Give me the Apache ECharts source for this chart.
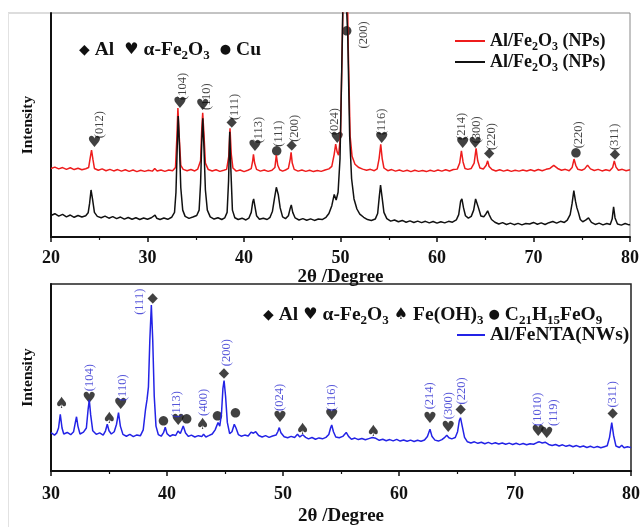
<!DOCTYPE html>
<html><head><meta charset="utf-8">
<script src="https://cdn.jsdelivr.net/npm/echarts@6/dist/echarts.min.js"></script>
<style>html,body{margin:0;padding:0;background:#fff}#c{width:643px;height:527px}</style>
</head><body><div id="c"></div>
<script>
// ---------- tick labels ----------
const topTicks = [20, 30, 40, 50, 60, 70, 80];
const botTicks = [30, 40, 50, 60, 70, 80];

// ---------- top panel: Al/Fe2O3 (NPs), red trace [2θ, intensity] ----------
const redNP = [[20.0,30.6],[20.4,31.2],[20.8,30.4],[21.2,31.0],[21.6,30.2],[22.0,30.9],[22.4,30.1],[22.8,30.7],[23.2,30.0],[23.6,30.5],[23.9,31.0],[24.05,35.0],[24.2,38.8],[24.35,34.5],[24.5,30.6],[24.9,29.8],[25.3,30.4],[25.7,29.6],[26.1,30.2],[26.5,29.5],[26.9,30.1],[27.3,29.4],[27.7,30.0],[28.1,29.3],[28.5,29.9],[28.9,29.2],[29.3,29.8],[29.7,29.3],[30.1,29.8],[30.5,29.4],[30.75,30.6],[31.0,29.5],[31.4,29.9],[31.8,29.3],[32.2,29.9],[32.6,29.6],[32.9,31.0],[33.05,45],[33.15,57.6],[33.3,44],[33.45,32],[33.7,30.2],[34.1,29.6],[34.5,30.1],[34.9,29.5],[35.2,30.3],[35.5,34],[35.62,48],[35.72,55.5],[35.85,46],[36.0,33],[36.3,30.1],[36.7,29.5],[37.1,30.0],[37.5,29.3],[37.9,29.8],[38.2,30.2],[38.42,36],[38.55,48.5],[38.68,37],[38.85,30.8],[39.2,29.4],[39.6,29.9],[40.0,29.2],[40.4,29.8],[40.75,30.5],[40.9,34],[40.98,36.9],[41.1,33],[41.3,30.2],[41.7,29.4],[42.1,29.9],[42.5,29.3],[42.9,29.8],[43.2,31],[43.35,36.6],[43.5,32],[43.7,30.0],[44.0,29.4],[44.3,29.9],[44.6,30.6],[44.8,35],[44.88,37.8],[45.0,33],[45.2,30.2],[45.6,29.4],[46.0,29.9],[46.4,29.3],[46.8,29.8],[47.2,29.2],[47.6,29.7],[48.0,29.3],[48.4,29.9],[48.8,30.4],[49.1,31.5],[49.35,37],[49.5,41.5],[49.65,38],[49.8,36.5],[50.0,45],[50.2,90],[50.35,130],[50.5,130],[50.65,130],[50.8,85],[51.0,45],[51.2,36],[51.5,32.5],[51.9,31.0],[52.3,30.3],[52.7,29.8],[53.1,30.2],[53.5,29.6],[53.8,30.4],[54.0,35],[54.17,41.4],[54.32,35],[54.5,30.8],[54.9,29.6],[55.3,30.1],[55.7,29.4],[56.1,29.9],[56.5,29.3],[56.9,29.8],[57.3,29.2],[57.7,29.8],[58.1,29.3],[58.5,29.7],[58.9,29.2],[59.3,29.8],[59.7,29.3],[60.1,29.9],[60.5,29.4],[60.9,30.0],[61.3,29.5],[61.7,30.1],[62.1,30.3],[62.35,33],[62.53,38.5],[62.7,33.5],[62.9,30.6],[63.2,30.2],[63.55,30.6],[63.85,33],[64.05,39.6],[64.22,34],[64.45,30.8],[64.8,30.4],[65.1,32],[65.25,34],[65.4,31.5],[65.7,30.1],[66.1,29.5],[66.5,30.0],[66.9,29.4],[67.3,29.9],[67.7,29.3],[68.1,29.8],[68.5,29.4],[68.9,29.9],[69.3,29.5],[69.7,30.0],[70.1,29.5],[70.5,30.1],[70.9,29.6],[71.3,30.2],[71.7,30.6],[72.1,32.0],[72.5,30.6],[72.9,29.8],[73.3,30.2],[73.7,29.6],[74.0,31],[74.2,34.8],[74.38,32],[74.6,30.2],[75.0,29.8],[75.3,30.4],[75.6,32.1],[75.9,30.4],[76.3,29.7],[76.7,30.2],[77.1,29.5],[77.5,30.0],[77.9,29.6],[78.2,31.0],[78.37,34.0],[78.55,31.2],[78.8,29.8],[79.2,30.2],[79.6,29.6],[80.0,30.0]];

// ---------- top panel: black trace ----------
const blackNP = [[20.0,9.6],[20.4,10.4],[20.8,9.3],[21.2,10.1],[21.6,9.0],[22.0,9.8],[22.4,8.8],[22.8,9.6],[23.2,8.9],[23.6,9.5],[23.85,10.8],[24.0,15],[24.15,21],[24.3,17],[24.5,11],[24.8,9.2],[25.2,8.6],[25.6,9.3],[26.0,8.4],[26.4,9.1],[26.8,8.2],[27.2,8.9],[27.6,8.0],[28.0,8.7],[28.4,7.9],[28.8,8.6],[29.2,7.8],[29.6,8.5],[30.0,7.9],[30.4,8.6],[30.6,9.0],[30.78,9.8],[30.95,8.4],[31.3,7.8],[31.7,8.5],[32.1,7.9],[32.5,8.8],[32.8,11],[32.95,20],[33.08,40],[33.18,54],[33.3,42],[33.45,22],[33.65,12],[33.9,9.2],[34.3,8.3],[34.7,8.9],[35.1,9.6],[35.35,12],[35.5,24],[35.62,42],[35.73,53],[35.85,40],[36.0,21],[36.2,12],[36.5,9.0],[36.9,8.0],[37.3,8.6],[37.7,7.8],[38.0,8.5],[38.25,11],[38.4,25],[38.52,47],[38.64,30],[38.8,12],[39.05,8.6],[39.4,7.8],[39.8,8.4],[40.2,7.6],[40.5,8.4],[40.75,11],[40.9,15.5],[41.0,17],[41.12,14],[41.3,9.5],[41.6,7.9],[42.0,8.4],[42.4,7.8],[42.7,8.8],[42.95,11.5],[43.15,17],[43.35,22.2],[43.55,19],[43.75,13],[44.0,9],[44.3,8.2],[44.6,9.5],[44.8,13],[44.9,14.3],[45.05,11],[45.3,8.5],[45.7,7.6],[46.1,8.2],[46.5,7.5],[46.9,8.1],[47.3,7.4],[47.7,8.0],[48.1,7.8],[48.5,8.8],[48.8,10.5],[49.1,14],[49.35,19],[49.55,16.5],[49.75,20],[49.95,35],[50.15,80],[50.35,130],[50.55,130],[50.75,90],[50.95,45],[51.15,26],[51.4,17],[51.7,12.5],[52.0,10.2],[52.4,8.8],[52.8,7.8],[53.2,7.4],[53.6,8.0],[53.85,10.5],[54.02,18],[54.15,23.2],[54.3,18],[54.5,11],[54.8,8.2],[55.2,7.1],[55.6,7.6],[56.0,6.8],[56.4,7.4],[56.8,6.6],[57.2,7.2],[57.6,6.5],[58.0,7.1],[58.4,6.4],[58.8,7.0],[59.2,6.3],[59.6,6.9],[60.0,6.2],[60.4,6.8],[60.8,6.3],[61.2,7.0],[61.6,6.6],[62.0,7.6],[62.25,10],[62.45,16],[62.58,17],[62.75,13],[62.95,9.5],[63.25,8.4],[63.55,9.2],[63.8,12],[64.0,17],[64.12,17.6],[64.3,13],[64.55,9.4],[64.85,9.0],[65.1,10.5],[65.25,11.7],[65.4,10],[65.65,7.8],[66.0,6.6],[66.4,5.8],[66.8,6.4],[67.2,5.6],[67.6,6.2],[68.0,5.5],[68.4,6.1],[68.8,5.4],[69.2,6.0],[69.6,5.8],[70.0,6.5],[70.4,5.7],[70.8,6.3],[71.2,5.6],[71.6,6.4],[72.0,6.9],[72.4,6.2],[72.8,7.0],[73.2,6.5],[73.5,7.5],[73.8,10],[74.0,15],[74.18,20.7],[74.35,16],[74.5,13],[74.65,11],[74.85,7.8],[75.1,6.8],[75.4,7.5],[75.7,8.5],[76.0,6.5],[76.4,5.6],[76.8,6.2],[77.2,5.4],[77.6,6.0],[77.95,5.6],[78.15,8.0],[78.3,13.5],[78.45,8.5],[78.7,5.8],[79.1,5.3],[79.5,6.0],[79.9,5.4],[80.0,5.6]];

// ---------- bottom panel: Al/FeNTA (NWs), blue trace ----------
const blueNW = [[30.0,20.5],[30.3,19.2],[30.5,20.4],[30.65,23],[30.8,30.3],[30.95,23],[31.1,19.8],[31.4,20.6],[31.7,19.4],[31.95,21],[32.1,26],[32.2,29],[32.32,24],[32.5,19.8],[32.8,20.8],[33.05,23],[33.2,33],[33.3,38],[33.42,30],[33.6,21.5],[33.9,19.6],[34.2,20.4],[34.5,19.2],[34.7,21.5],[34.85,25],[35.0,21.5],[35.2,19.8],[35.45,21],[35.65,25],[35.82,31.2],[35.98,24],[36.2,19.6],[36.5,18.6],[36.8,19.6],[37.1,18.4],[37.4,19.3],[37.7,18.8],[37.95,22],[38.15,33],[38.28,38.3],[38.4,45],[38.52,70],[38.65,88.8],[38.77,70],[38.9,40],[39.05,24],[39.25,19.5],[39.5,18.6],[39.7,20.5],[39.85,23.4],[40.0,20.0],[40.25,18.6],[40.5,19.4],[40.75,19.0],[40.95,21.4],[41.15,20.0],[41.4,24.1],[41.6,20.3],[41.85,18.5],[42.1,19.2],[42.4,18.2],[42.7,18.9],[43.0,18.4],[43.15,19.7],[43.35,18.2],[43.6,18.9],[43.9,19.8],[44.15,22],[44.4,25.9],[44.55,24],[44.7,31],[44.82,44],[44.92,48.4],[45.05,40],[45.2,26],[45.4,20],[45.6,21],[45.8,25],[45.95,23],[46.15,19.5],[46.4,18.6],[46.7,19.2],[47.0,18.7],[47.25,20.8],[47.45,20.2],[47.65,21],[47.9,19.0],[48.2,18.2],[48.5,18.9],[48.8,18.0],[49.1,18.7],[49.4,19.2],[49.55,21],[49.68,23.2],[49.82,20.5],[50.1,18.3],[50.4,17.8],[50.7,18.5],[51.0,17.9],[51.25,19.6],[51.45,18.2],[51.7,19.4],[51.95,18.0],[52.2,17.2],[52.5,17.9],[52.8,17.0],[53.1,17.7],[53.4,17.2],[53.7,18.0],[53.95,19.5],[54.1,23],[54.2,24.6],[54.35,21],[54.55,18.2],[54.85,17.8],[55.15,18.5],[55.45,20.6],[55.65,18.5],[55.9,17.0],[56.2,17.6],[56.5,16.8],[56.8,17.4],[57.1,16.7],[57.4,17.3],[57.7,17.9],[58.0,17.5],[58.3,16.4],[58.6,17.0],[58.9,16.2],[59.2,16.8],[59.5,16.1],[59.8,16.9],[60.1,16.0],[60.4,16.6],[60.7,15.9],[61.0,16.5],[61.3,15.8],[61.6,16.4],[61.9,15.9],[62.2,16.6],[62.45,18.5],[62.67,22.3],[62.85,18.4],[63.1,16.5],[63.4,16.0],[63.7,16.8],[63.95,18.0],[64.12,19.1],[64.3,17.8],[64.55,17.2],[64.85,17.9],[65.05,21],[65.2,27],[65.3,28.5],[65.45,24],[65.65,18.0],[65.9,15.6],[66.2,15.0],[66.5,15.6],[66.8,14.8],[67.1,15.4],[67.4,14.6],[67.7,15.3],[68.0,14.5],[68.3,15.1],[68.6,14.4],[68.9,15.0],[69.2,14.3],[69.5,14.9],[69.8,14.2],[70.1,14.8],[70.4,14.1],[70.7,14.7],[71.0,14.0],[71.3,14.6],[71.6,14.3],[71.9,15.2],[72.1,15.6],[72.35,15.0],[72.6,15.4],[72.9,14.2],[73.2,13.6],[73.5,14.2],[73.8,13.4],[74.1,14.0],[74.4,13.2],[74.7,13.8],[75.0,13.0],[75.3,13.6],[75.6,12.8],[75.9,13.4],[76.2,12.6],[76.5,13.2],[76.8,12.5],[77.1,13.1],[77.4,12.4],[77.7,13.0],[77.95,13.5],[78.15,18],[78.34,25.9],[78.5,19],[78.7,13.4],[79.0,12.6],[79.2,13.8],[79.4,12.4],[79.7,13.0],[80.0,12.5]];

// ---------- phase markers [2θ, level, glyph] ----------
const topGlyphs = [[24.49,42.1,'♥'],[33.37,59.4,'♥'],[35.72,58.5,'♥'],[38.72,51.2,'◆'],[41.14,40.3,'♥'],[43.39,38.5,'●'],[44.94,40.9,'◆'],[49.67,43.6,'♥'],[50.64,92.2,'●'],[54.27,43.6,'♥'],[62.66,41.5,'♥'],[63.95,41.5,'♥'],[65.42,37.4,'◆'],[74.4,37.4,'●'],[78.45,37.0,'◆']];
// Miller indices [2θ, level of label foot, text]
const topHkl = [[25.08,44.1,'(012)'],[33.65,61.2,'(104)'],[36.13,56.7,'(110)'],[39.07,52.2,'(111)'],[41.48,41.8,'(113)'],[43.56,40.3,'(111)'],[45.28,42.5,'(200)'],[52.4,84.2,'(200)'],[49.43,45.5,'(024)'],[54.27,45.5,'(116)'],[62.56,43.3,'(214)'],[64.1,41.8,'(300)'],[65.67,38.8,'(220)'],[74.65,39.6,'(220)'],[78.45,38.8,'(311)']];

const botGlyphs = [[30.92,35.6,'♠'],[33.3,38.3,'♥'],[35.03,28.0,'♠'],[36.0,35.1,'♥'],[38.77,92.4,'◆'],[39.7,27.1,'●'],[40.97,26.8,'♥'],[41.7,28.0,'●'],[43.08,24.5,'♠'],[44.34,29.8,'●'],[44.91,52.1,'◆'],[45.9,30.9,'●'],[49.74,28.5,'♥'],[51.7,21.8,'♠'],[54.2,29.4,'♥'],[57.8,20.9,'♠'],[62.67,28.0,'♥'],[64.25,23.2,'♥'],[65.32,33.0,'◆'],[72.0,20.9,'♥'],[72.73,19.7,'♥'],[78.42,30.9,'◆']];
const botHkl = [[33.3,42.7,'(104)'],[36.18,37.4,'(110)'],[37.67,83.5,'(111)'],[40.84,28.5,'(113)'],[43.19,29.4,'(400)'],[45.15,56.0,'(200)'],[49.74,32.1,'(024)'],[54.2,32.1,'(116)'],[62.67,33.0,'(214)'],[64.25,27.7,'(300)'],[65.4,35.6,'(220)'],[72.0,24.1,'(1010)'],[73.3,24.1,'(119)'],[78.42,33.9,'(311)']];

// ---------- styling ----------
const SERIF = "'Liberation Serif','Times New Roman',serif";
const SYM = "'DejaVu Sans',sans-serif";

function richSet(fs, sub) {
  return {
    t: {fontFamily: SERIF, fontWeight: 'bold', fontSize: fs, color: '#111', lineHeight: 24},
    s: {fontFamily: SERIF, fontWeight: 'bold', fontSize: sub, color: '#111', lineHeight: 13, verticalAlign: 'bottom'},
    d: {fontFamily: SYM, fontSize: 14, color: '#111', lineHeight: 24},
    h: {fontFamily: SYM, fontSize: 16, color: '#111', lineHeight: 24},
    c: {fontFamily: SYM, fontSize: 13, color: '#111', lineHeight: 24}
  };
}
const richKey = richSet(19.5, 13);
const richLeg = richSet(18, 12);
const richLeg2 = richSet(19.5, 13);

function glyphSeries(data, xi) {
  return {
    type: 'scatter', xAxisIndex: xi, yAxisIndex: xi, silent: true,
    symbolSize: 1, itemStyle: {color: 'rgba(0,0,0,0)'},
    data: data.map(d => [d[0], d[1], d[2]]),
    label: {
      show: true, position: 'inside',
      formatter: p => '{' + (p.value[2] === '♥' || p.value[2] === '♠' ? 'h' : (p.value[2] === '◆' ? 'd' : 'c')) + '|' + p.value[2] + '}',
      rich: {
        h: {fontFamily: SYM, fontSize: 15.5, color: '#111'},
        d: {fontFamily: SYM, fontSize: 13.5, color: '#111'},
        c: {fontFamily: SYM, fontSize: 12.5, color: '#111'}
      }
    }
  };
}
function hklSeries(data, xi, color) {
  return {
    type: 'scatter', xAxisIndex: xi, yAxisIndex: xi, silent: true,
    symbolSize: 1, itemStyle: {color: 'rgba(0,0,0,0)'},
    data: data.map(d => [d[0], d[1], d[2]]),
    label: {
      show: true, position: 'inside', rotate: 90, align: 'left', verticalAlign: 'middle',
      formatter: p => p.value[2],
      fontFamily: SERIF, fontSize: 12.5, color: color
    }
  };
}

const axisLabelStyle = {fontFamily: SERIF, fontWeight: 'bold', fontSize: 18, color: '#111'};
function xAx(gi, ticks, gap, lblMargin) {
  return {
    type: 'value', gridIndex: gi, min: ticks[0], max: ticks[ticks.length - 1], interval: 10,
    name: '2θ /Degree', nameLocation: 'middle', nameGap: gap,
    nameTextStyle: {fontFamily: SERIF, fontWeight: 'bold', fontSize: 19, color: '#111'},
    axisLine: {show: true, onZero: false, lineStyle: {color: '#111', width: 2}},
    axisTick: {show: true, length: 5, lineStyle: {color: '#111', width: 1.5}},
    minorTick: {show: true, splitNumber: 2, length: 3, lineStyle: {color: '#111', width: 1.2}},
    axisLabel: Object.assign({margin: lblMargin}, axisLabelStyle),
    splitLine: {show: false}
  };
}
function yAx(gi, gap) {
  return {
    type: 'value', gridIndex: gi, min: 0, max: 100,
    name: 'Intensity', nameLocation: 'middle', nameRotate: 90, nameGap: gap,
    nameTextStyle: {fontFamily: SERIF, fontWeight: 'bold', fontSize: 15.5, color: '#111'},
    axisLine: {show: true, lineStyle: {color: '#111', width: 2}},
    axisTick: {show: false}, axisLabel: {show: false}, splitLine: {show: false}
  };
}

const chart = echarts.init(document.getElementById('c'), null, {renderer: 'canvas'});
chart.setOption({
  animation: false,
  backgroundColor: '#fff',
  grid: [
    {left: 51, right: 13, top: 13, height: 224, show: true, borderColor: '#888', borderWidth: 1},
    {left: 51, right: 12, top: 284, height: 188, show: true, borderColor: '#222', borderWidth: 1.5}
  ],
  xAxis: [xAx(0, topTicks, 26, 12), xAx(1, botTicks, 36, 14)],
  yAxis: [yAx(0, 15), yAx(1, 15)],
  title: [
    {left: 74, top: 33, text: '{d|◆} {t|Al}  {h|♥} {t|α-Fe}{s|2}{t|O}{s|3}  {c|●} {t|Cu}', textStyle: {rich: richKey}},
    {left: 258, top: 298, text: '{d|◆} {t|Al} {h|♥} {t|α-Fe}{s|2}{t|O}{s|3} {h|♠} {t|Fe(OH)}{s|3} {c|●} {t|C}{s|21}{t|H}{s|15}{t|FeO}{s|9}', textStyle: {rich: richKey}}
  ],
  legend: [
    {
      data: ['NP1', 'NP2'], orient: 'vertical', left: 450, top: 27, itemGap: 0,
      itemWidth: 30, itemHeight: 2, icon: 'rect',
      formatter: () => '{t|Al/Fe}{s|2}{t|O}{s|3}{t| (NPs)}',
      textStyle: {rich: richLeg}
    },
    {
      data: ['NW'], orient: 'vertical', left: 452, top: 320, itemGap: 0,
      itemWidth: 28, itemHeight: 2, icon: 'rect',
      formatter: () => '{t|Al/FeNTA(NWs)}',
      textStyle: {rich: richLeg2}
    }
  ],
  graphic: [
    {type: 'line', shape: {x1: 8, y1: 13, x2: 51, y2: 13}, style: {stroke: '#bbb', lineWidth: 1}, silent: true},
    {type: 'line', shape: {x1: 8.5, y1: 13, x2: 8.5, y2: 527}, style: {stroke: '#e2e2e2', lineWidth: 1}, silent: true}
  ],
  series: [
    {name: 'NP1', type: 'line', xAxisIndex: 0, yAxisIndex: 0, data: redNP, showSymbol: false, clip: true,
     lineStyle: {color: '#ee1c1c', width: 1.5}, itemStyle: {color: '#ee1c1c'}},
    {name: 'NP2', type: 'line', xAxisIndex: 0, yAxisIndex: 0, data: blackNP, showSymbol: false, clip: true,
     lineStyle: {color: '#111', width: 1.5}, itemStyle: {color: '#111'}},
    {name: 'NW', type: 'line', xAxisIndex: 1, yAxisIndex: 1, data: blueNW, showSymbol: false, clip: true,
     lineStyle: {color: '#2323e6', width: 1.5}, itemStyle: {color: '#2323e6'}},
    glyphSeries(topGlyphs, 0),
    hklSeries(topHkl, 0, '#111'),
    glyphSeries(botGlyphs, 1),
    hklSeries(botHkl, 1, '#2a2ad0')
  ]
});
</script></body></html>
